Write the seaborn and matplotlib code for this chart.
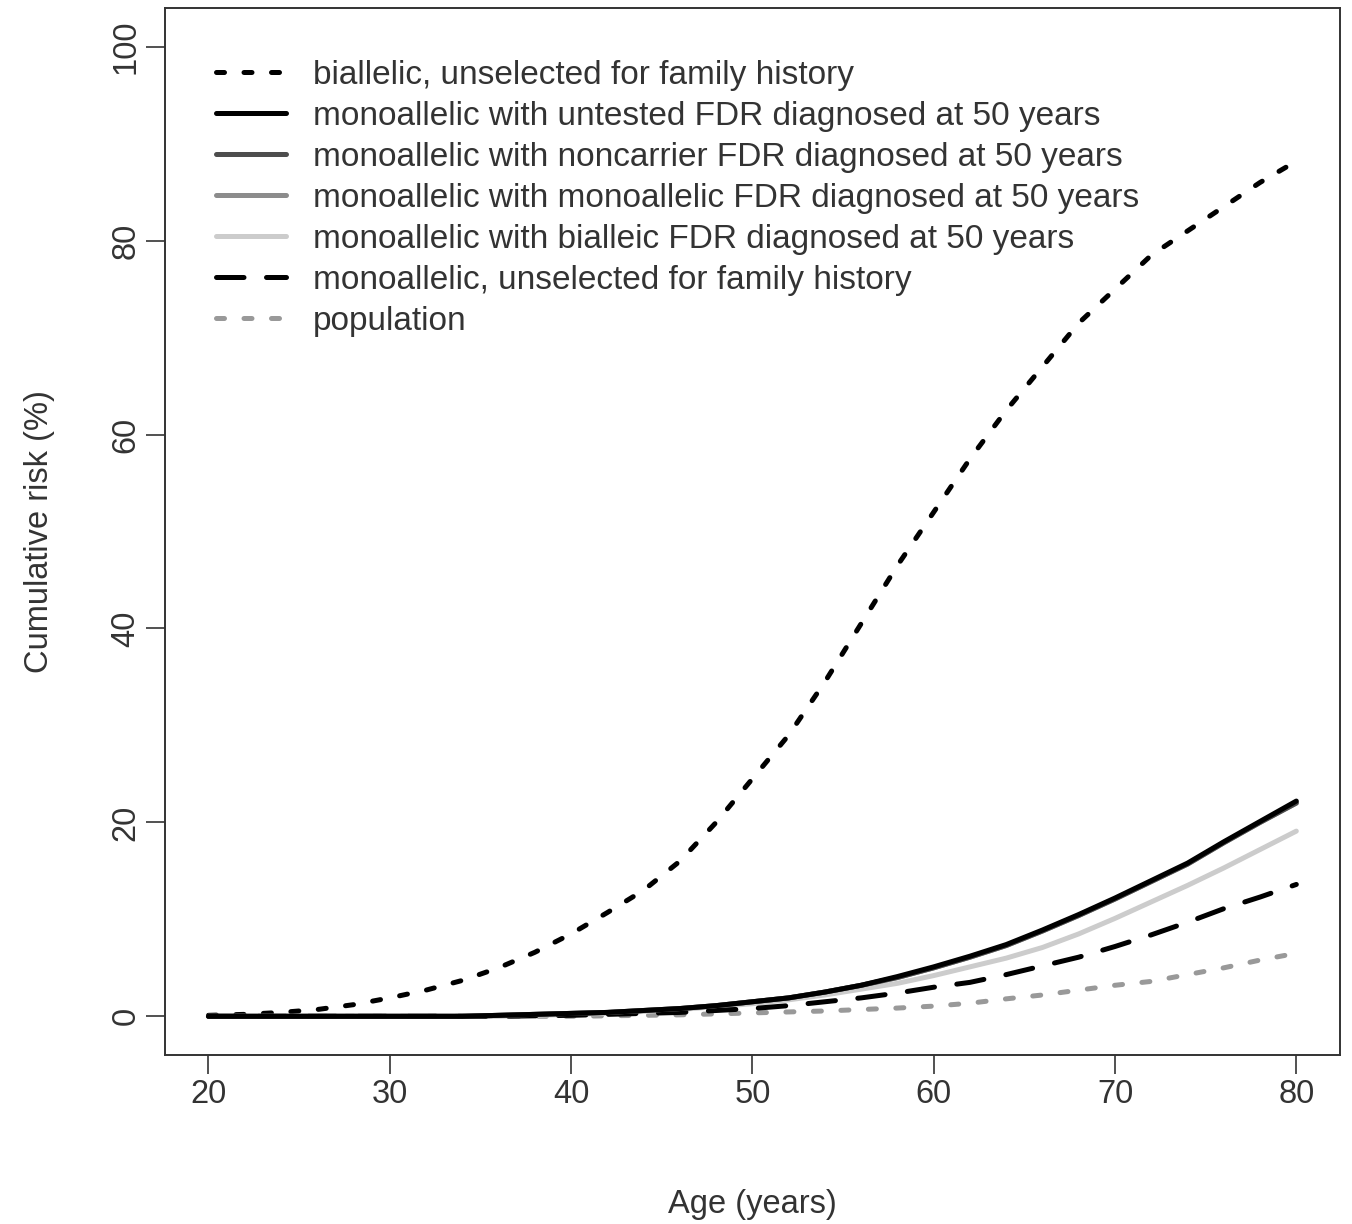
import pandas as pd
import matplotlib.pyplot as plt
import seaborn as sns
from matplotlib.lines import Line2D

# age grid (years)
age = [20, 22, 24, 26, 28, 30, 32, 34, 36, 38, 40, 42, 44, 46, 48, 50,
       52, 54, 56, 58, 60, 62, 64, 66, 68, 70, 72, 74, 76, 78, 80]

# cumulative risk (%)
biallelic = [0.1, 0.2, 0.4, 0.7, 1.2, 1.9, 2.7, 3.7, 5.0, 6.6, 8.5, 10.7, 13.0, 16.0, 20.0, 24.5,
             29.0, 34.5, 40.5, 46.5, 52.0, 57.5, 62.5, 67.0, 71.5, 75.0, 78.5, 81.0, 83.5, 86.0, 88.2]
mono_untested = [0, 0, 0, 0, 0, 0, 0, 0, 0.1, 0.2, 0.3, 0.4, 0.6, 0.8, 1.1, 1.5,
                 1.9, 2.5, 3.2, 4.1, 5.1, 6.2, 7.4, 8.9, 10.5, 12.2, 14.0, 15.8, 18.0, 20.1, 22.2]
mono_noncarrier = [0, 0, 0, 0, 0, 0, 0, 0, 0.1, 0.2, 0.3, 0.4, 0.6, 0.8, 1.1, 1.5,
                   1.9, 2.5, 3.2, 4.0, 5.0, 6.1, 7.3, 8.8, 10.4, 12.1, 13.9, 15.7, 17.9, 20.0, 22.0]
mono_mono = [0, 0, 0, 0, 0, 0, 0, 0, 0.1, 0.2, 0.3, 0.4, 0.6, 0.8, 1.1, 1.5,
             1.9, 2.5, 3.2, 4.0, 5.0, 6.1, 7.3, 8.8, 10.4, 12.1, 13.9, 15.7, 17.9, 20.0, 22.0]
mono_biallelic = [0, 0, 0, 0, 0, 0, 0, 0, 0, 0.1, 0.2, 0.3, 0.5, 0.7, 1.0, 1.3,
                  1.7, 2.2, 2.8, 3.4, 4.2, 5.1, 6.0, 7.1, 8.5, 10.1, 11.8, 13.5, 15.3, 17.2, 19.1]
mono_unselected = [0, 0, 0, 0, 0, 0, 0, 0, 0, 0.05, 0.1, 0.2, 0.3, 0.4, 0.6, 0.8,
                   1.1, 1.5, 1.9, 2.4, 3.0, 3.5, 4.3, 5.2, 6.1, 7.2, 8.4, 9.7, 11.1, 12.3, 13.6]
population = [0, 0, 0, 0, 0, 0, 0, 0, 0, 0, 0, 0.05, 0.1, 0.15, 0.25, 0.35,
              0.45, 0.55, 0.7, 0.85, 1.05, 1.35, 1.8, 2.2, 2.7, 3.2, 3.6, 4.3, 5.0, 5.8, 6.5]

labels = [
    'biallelic, unselected for family history',
    'monoallelic with untested FDR diagnosed at 50 years',
    'monoallelic with noncarrier FDR diagnosed at 50 years',
    'monoallelic with monoallelic FDR diagnosed at 50 years',
    'monoallelic with bialleic FDR diagnosed at 50 years',
    'monoallelic, unselected for family history',
    'population',
]
series = [biallelic, mono_untested, mono_noncarrier, mono_mono,
          mono_biallelic, mono_unselected, population]

colors = ['black', 'black', '#4d4d4d', '#8c8c8c', '#cccccc', 'black', '#999999']
dotted = (0, (1.6, 3.9))
dashed = (0, (5.5, 4.5))
styles = [dotted, '-', '-', '-', '-', dashed, dotted]
zorders = [3, 6, 5, 4, 3, 3, 2]

sns.set_style('white')
plt.rcParams['font.family'] = ['Liberation Sans', 'DejaVu Sans']

fig = plt.figure(figsize=(13.52, 12.24), dpi=100)
ax = fig.add_axes([0.122, 0.138, 0.869, 0.8555])

lw = 3.6
for lab, vals, col, ls, z in zip(labels, series, colors, styles, zorders):
    d = pd.DataFrame({'age': age, 'risk': vals})
    sns.lineplot(data=d, x='age', y='risk', ax=ax, color=col, linestyle=ls,
                 linewidth=lw, zorder=z, dash_capstyle='round')

ax.set_xlim(17.6, 82.4)
ax.set_ylim(-4, 104)
ax.set_xticks([20, 30, 40, 50, 60, 70, 80])
ax.set_yticks([0, 20, 40, 60, 80, 100])
ax.tick_params(axis='both', direction='out', length=14, width=1.2, color='#333333',
               labelsize=23.5, labelcolor='#333333', pad=3, left=True, bottom=True)
plt.setp(ax.get_yticklabels(), rotation=90, va='center')
for s in ax.spines.values():
    s.set_color('#333333')
    s.set_linewidth(1.4)

ax.set_xlabel('Age (years)', fontsize=23.5, color='#333333', labelpad=57)
ax.set_ylabel('Cumulative risk (%)', fontsize=23.5, color='#333333', labelpad=40)

handles = [Line2D([0], [0], color=c, linestyle=s, linewidth=lw, dash_capstyle='round')
           for c, s in zip(colors, styles)]
ax.legend(handles, labels, loc='upper left', bbox_to_anchor=(0.032, 0.963), frameon=False,
          fontsize=24, handlelength=2.1, handletextpad=0.8, labelspacing=0.3,
          labelcolor='#333333', borderaxespad=0)

fig.savefig('out.png', dpi=100)
